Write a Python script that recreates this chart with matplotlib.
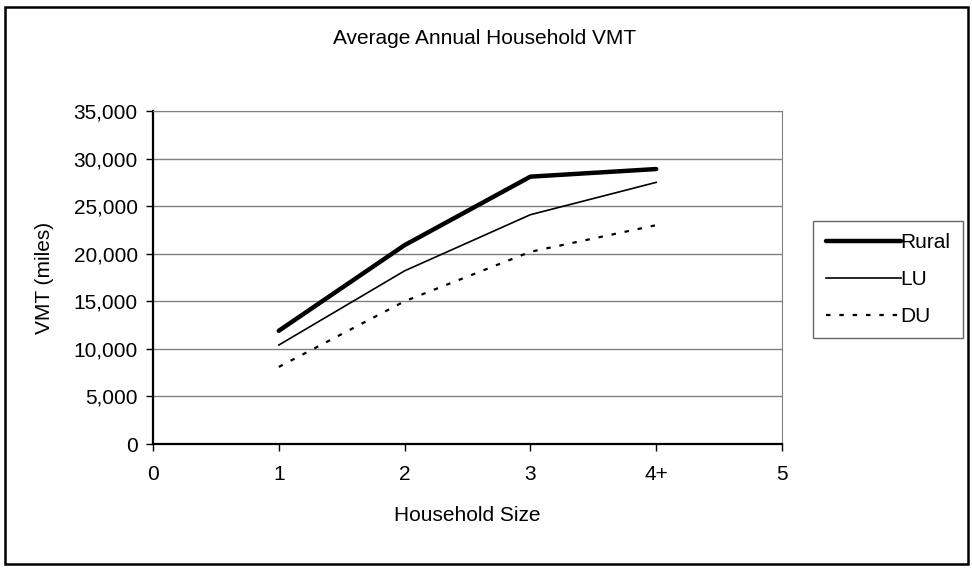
import matplotlib.pyplot as plt
from matplotlib.patches import Rectangle

# data
sizes = [1, 2, 3, 4]
rural = [11900, 20900, 28100, 28900]
lu = [10400, 18200, 24100, 27500]
du = [8100, 15000, 20200, 23000]

xticks = [0, 1, 2, 3, 4, 5]
xtick_labels = ['0', '1', '2', '3', '4+', '5']
yticks = list(range(0, 35001, 5000))

plt.rcParams['font.family'] = ['Liberation Sans', 'DejaVu Sans']
fs = 15

fig = plt.figure(figsize=(9.72, 5.72), dpi=100)
ax = fig.add_axes([153/972, 1 - 444/572, (782 - 153)/972, (444 - 111)/572])

ax.plot(sizes, rural, color='black', lw=3.2, solid_capstyle='round', label='Rural')
ax.plot(sizes, lu, color='black', lw=1.2, label='LU')
ax.plot(sizes, du, color='black', lw=1.6, ls=(0, (2, 4)), label='DU')

ax.set_xlim(0, 5)
ax.set_ylim(0, 35000)
ax.set_xticks(xticks)
ax.set_xticklabels(xtick_labels, fontsize=fs)
ax.set_yticks(yticks)
ax.set_yticklabels([f'{v:,}' for v in yticks], fontsize=fs)
ax.tick_params(axis='y', direction='out', length=5, width=1, pad=6)
ax.tick_params(axis='x', direction='out', length=5, width=1, pad=10)
ax.yaxis.grid(True, color='#808080', lw=1)
ax.set_axisbelow(True)

for s in ['top', 'right']:
    ax.spines[s].set_color('#808080')
for s in ['left', 'bottom']:
    ax.spines[s].set_linewidth(1.6)

ax.set_xlabel('Household Size', fontsize=fs, labelpad=16)
ax.set_ylabel('VMT (miles)', fontsize=fs, labelpad=14)
fig.text(485/972, 1 - 38/572, 'Average Annual Household VMT', fontsize=fs,
         ha='center', va='center')

leg = fig.legend(loc='upper left', bbox_to_anchor=(813/972, 1 - 221/572),
                 fontsize=fs, frameon=True, fancybox=False, edgecolor='#404040',
                 handlelength=3.6, handletextpad=0.0, borderpad=0.6,
                 labelspacing=0.85, borderaxespad=0)
leg.get_frame().set_linewidth(1)

fig.patches.append(Rectangle((4.5/972, 1 - 564/572), 963/972, 557.5/572,
                             transform=fig.transFigure, fill=False,
                             edgecolor='black', lw=1.8))

fig.savefig('out.png', dpi=100)
